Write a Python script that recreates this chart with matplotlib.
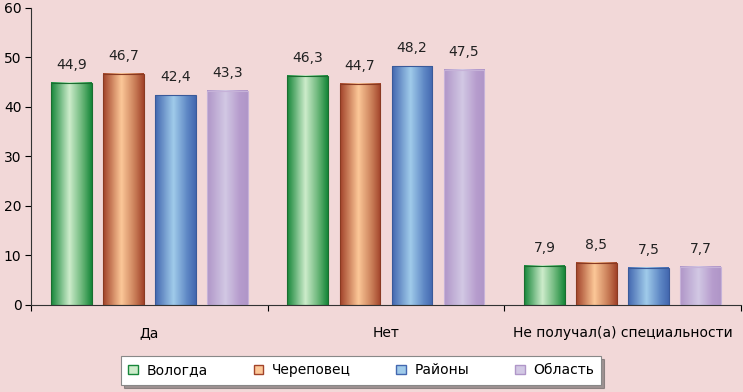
import numpy as np
import matplotlib.pyplot as plt
from matplotlib.colors import LinearSegmentedColormap
from matplotlib.patches import Patch

categories = ['Да', 'Нет', 'Не получал(а) специальности']
series = ['Вологда', 'Череповец', 'Районы', 'Область']
vologda = [44.9, 46.3, 7.9]
cherepovets = [46.7, 44.7, 8.5]
raiony = [42.4, 48.2, 7.5]
oblast = [43.3, 47.5, 7.7]
values = [vologda, cherepovets, raiony, oblast]

# edge / centre colours for the cylinder-like shading
shades = [('#17873a', '#cdeccb', '#5fb070'),
          ('#a2432a', '#fcc898', '#c77a55'),
          ('#4468b0', '#a0cbea', '#5d86c4'),
          ('#b096c8', '#d2c8e4', '#b69ccd')]
edges = ['#1a6e30', '#8a3a22', '#3a5a9a', '#c6b2d8']
bg = '#f2d8d8'

fig = plt.figure(figsize=(7.43, 3.92), dpi=100, facecolor=bg)
ax = fig.add_axes([0.042, 0.222, 0.955, 0.758])
ax.set_facecolor(bg)

x = np.arange(len(categories))
w = 0.173
step = 0.22
grad = np.linspace(0, 1, 64).reshape(1, -1)
for i, (vals, sh, ec) in enumerate(zip(values, shades, edges)):
    cmap = LinearSegmentedColormap.from_list('c%d' % i,
                                             [(0, sh[0]), (0.45, sh[1]), (0.8, sh[2]), (1, sh[0])])
    for xi, v in zip(x, vals):
        left = xi - 1.5 * step - w / 2 + i * step
        ax.imshow(grad, cmap=cmap, extent=(left, left + w, 0, v), aspect='auto', zorder=2)
        ax.add_patch(plt.Rectangle((left, 0), w, v, fill=False, edgecolor=ec, lw=0.8, zorder=3))
        ax.text(left + w / 2, v + 2.2, ('%.1f' % v).replace('.', ','), ha='center', va='bottom',
                fontsize=10, color='#222222')

ax.set_xlim(-0.5, 2.5)
ax.set_ylim(0, 60)
ax.set_yticks(range(0, 61, 10))
ax.set_xticks([-0.5, 0.5, 1.5, 2.5])
ax.set_xticklabels([])
ax.set_xticks(x, minor=True)
ax.set_xticklabels(categories, minor=True, fontsize=10)
ax.tick_params(axis='x', which='minor', length=0, pad=15)
ax.tick_params(axis='x', which='major', length=4, direction='out')
ax.tick_params(axis='y', labelsize=10, length=4, direction='out', pad=3)
for s in ['top', 'right']:
    ax.spines[s].set_visible(False)
ax.spines['left'].set_color('#333333')
ax.spines['bottom'].set_color('#333333')

handles = [Patch(facecolor=sh[1], edgecolor=sh[0], label=s) for s, sh in zip(series, shades)]
leg = fig.legend(handles=handles, loc='center', bbox_to_anchor=(0.486, 0.055), ncol=4,
                 fontsize=10, frameon=True, fancybox=False, shadow=True, edgecolor='#888888',
                 handlelength=0.7, handleheight=0.7, columnspacing=3.3, handletextpad=0.6,
                 borderpad=0.55, borderaxespad=0)
leg.get_frame().set_linewidth(0.8)

fig.savefig('out.png', dpi=100, facecolor=bg)
